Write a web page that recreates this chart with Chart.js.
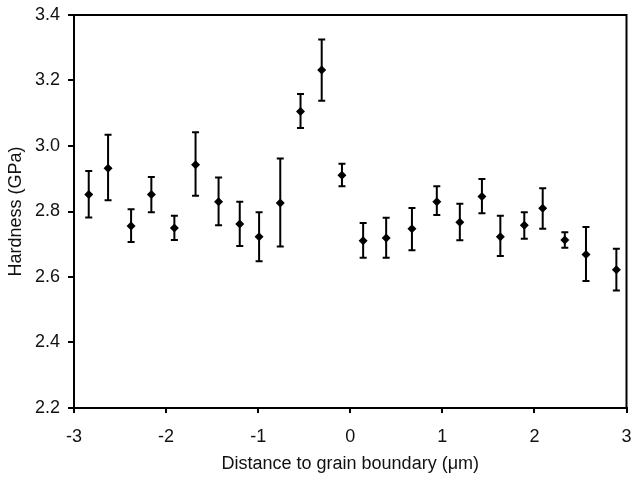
<!DOCTYPE html>
<html>
<head>
<meta charset="utf-8">
<script src="https://cdn.jsdelivr.net/npm/chart.js@4/dist/chart.umd.min.js"></script>
<style>
  html, body { margin: 0; padding: 0; background: #fff; }
  #wrap { width: 631px; height: 479px; }
</style>
</head>
<body>
<div id="wrap"><canvas id="hardChart" width="631" height="479"></canvas></div>
<script>
// distance to grain boundary (um)
const distance = [-2.84, -2.63, -2.38, -2.16, -1.91, -1.68, -1.43, -1.20, -0.99, -0.76,
  -0.54, -0.31, -0.09, 0.14, 0.39, 0.67, 0.94, 1.19, 1.43, 1.63, 1.89, 2.09, 2.33, 2.56, 2.89];
// hardness (GPa)
const hardness = [2.852, 2.932, 2.756, 2.852, 2.750, 2.943, 2.830, 2.762, 2.723, 2.826,
  3.105, 3.232, 2.911, 2.711, 2.719, 2.747, 2.830, 2.767, 2.846, 2.723, 2.758, 2.810, 2.713, 2.669, 2.622];
// error bar ends
const errTop = [2.924, 3.034, 2.807, 2.905, 2.787, 3.042, 2.904, 2.830, 2.798, 2.962,
  3.159, 3.325, 2.946, 2.765, 2.781, 2.811, 2.877, 2.824, 2.899, 2.787, 2.798, 2.871, 2.737, 2.753, 2.686];
const errBottom = [2.782, 2.834, 2.707, 2.798, 2.713, 2.848, 2.758, 2.695, 2.648, 2.693,
  3.055, 3.138, 2.877, 2.659, 2.659, 2.682, 2.789, 2.712, 2.795, 2.664, 2.717, 2.747, 2.689, 2.588, 2.559];

const points = distance.map((d, i) => ({ x: d, y: hardness[i] }));

// draws the vertical error bars with caps
const errorBars = {
  id: 'errorBars',
  beforeDatasetsDraw(chart) {
    const { ctx, scales: { x, y } } = chart;
    ctx.save();
    ctx.strokeStyle = '#000';
    ctx.lineWidth = 2;
    distance.forEach((d, i) => {
      const px = x.getPixelForValue(d);
      const top = y.getPixelForValue(errTop[i]);
      const bot = y.getPixelForValue(errBottom[i]);
      ctx.beginPath();
      ctx.moveTo(px, top); ctx.lineTo(px, bot);
      ctx.moveTo(px - 3.5, top); ctx.lineTo(px + 3.5, top);
      ctx.moveTo(px - 3.5, bot); ctx.lineTo(px + 3.5, bot);
      ctx.stroke();
    });
    ctx.restore();
  }
};

// box around plot area
const frame = {
  id: 'frame',
  afterDraw(chart) {
    const { ctx, chartArea: a } = chart;
    ctx.save();
    ctx.strokeStyle = '#000';
    ctx.lineWidth = 2;
    ctx.strokeRect(a.left, a.top, a.right - a.left, a.bottom - a.top);
    ctx.restore();
  }
};

const fontFam = '"Liberation Sans", Arial, sans-serif';

new Chart(document.getElementById('hardChart'), {
  type: 'scatter',
  data: {
    datasets: [{
      label: 'Hardness',
      data: points,
      pointStyle: 'rectRot',
      pointRadius: 4.5,
      backgroundColor: '#000',
      borderColor: '#000',
      borderWidth: 0
    }]
  },
  options: {
    responsive: false,
    animation: false,
    layout: { padding: { left: 0, right: 3, top: 15, bottom: 0 } },
    plugins: { legend: { display: false }, tooltip: { enabled: false } },
    scales: {
      x: {
        type: 'linear',
        min: -3, max: 3,
        border: { color: '#000', width: 2 },
        grid: { drawOnChartArea: false, color: '#000', tickLength: 5, lineWidth: 2 },
        ticks: { stepSize: 1, color: '#111', font: { family: fontFam, size: 18 }, padding: 13.5 },
        title: { display: true, text: 'Distance to grain boundary (μm)', color: '#111',
          font: { family: fontFam, size: 18 }, padding: { top: 4, bottom: 4 } },
        afterFit(scale) {
          scale.height = 71;
          scale.paddingLeft = 0;
          scale.paddingRight = 0;
        }
      },
      y: {
        min: 2.2, max: 3.4,
        border: { color: '#000', width: 2 },
        grid: { drawOnChartArea: false, color: '#000', tickLength: 6, lineWidth: 2 },
        ticks: { stepSize: 0.2, color: '#111', font: { family: fontFam, size: 18 }, padding: 8,
          callback: v => v.toFixed(1) },
        title: { display: true, text: 'Hardness (GPa)', color: '#111',
          font: { family: fontFam, size: 18 }, padding: { top: 5, bottom: 4 } },
        afterFit(scale) {
          scale.width = 74;
          scale.paddingTop = 0;
          scale.paddingBottom = 0;
        }
      }
    }
  },
  plugins: [errorBars, frame]
});
</script>
</body>
</html>
